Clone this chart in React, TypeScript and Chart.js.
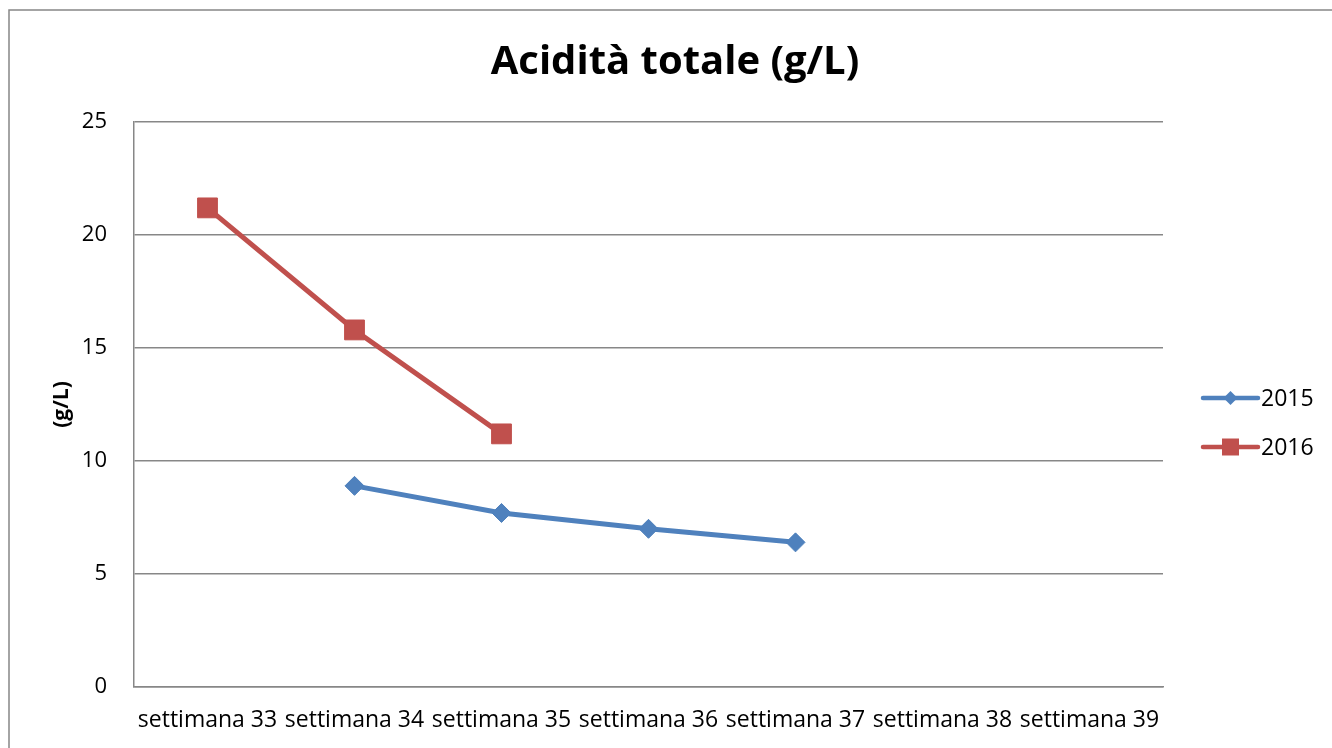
import React, { useEffect, useRef } from 'react';
import { Chart, registerables } from 'chart.js';

Chart.register(...registerables);

const categories = [
  'settimana 33',
  'settimana 34',
  'settimana 35',
  'settimana 36',
  'settimana 37',
  'settimana 38',
  'settimana 39',
];
const series2015 = [null, 8.9, 7.7, 7.0, 6.4, null, null];
const series2016 = [21.2, 15.8, 11.2, null, null, null, null];
const seriesLabels = ['2015', '2016'];
const yMin = 0;
const yMax = 25;
const yStep = 5;

const FONT = '"Open Sans", "Noto Sans", sans-serif';
const GRAY = '#878787';
const BLUE = '#4F81BD';
const RED = '#C0504D';

const frameAndLegend = {
  id: 'frameAndLegend',
  beforeDraw(chart: any) {
    const ctx = chart.ctx;
    ctx.save();
    ctx.fillStyle = '#ffffff';
    ctx.fillRect(0, 0, chart.width, chart.height);
    ctx.strokeStyle = GRAY;
    ctx.lineWidth = 1.5;
    ctx.strokeRect(9, 10, chart.width + 100, chart.height + 100);
    ctx.restore();
  },
  afterDraw(chart: any) {
    const ctx = chart.ctx;
    const area = chart.chartArea;
    const cy = (area.top + area.bottom) / 2;
    ctx.save();
    chart.data.datasets.forEach((ds: any, i: number) => {
      const y = cy - 6.5 + i * 49;
      const x0 = area.right + 40;
      const x1 = area.right + 95;
      const xm = (x0 + x1) / 2;
      ctx.strokeStyle = ds.borderColor;
      ctx.lineWidth = 4.5;
      ctx.lineCap = 'round';
      ctx.beginPath();
      ctx.moveTo(x0, y);
      ctx.lineTo(x1, y);
      ctx.stroke();
      ctx.fillStyle = ds.borderColor;
      ctx.beginPath();
      if (ds.pointStyle === 'rectRot') {
        const r = 7;
        ctx.moveTo(xm - r, y);
        ctx.lineTo(xm, y - r);
        ctx.lineTo(xm + r, y);
        ctx.lineTo(xm, y + r);
        ctx.closePath();
      } else {
        const s = 8.5;
        ctx.rect(xm - s, y - s, 2 * s, 2 * s);
      }
      ctx.fill();
      ctx.fillStyle = '#000';
      ctx.font = `23px ${FONT}`;
      ctx.textBaseline = 'middle';
      ctx.textAlign = 'left';
      ctx.fillText(ds.label, x1 + 3, y + 1);
    });
    ctx.restore();
  },
};

export default function App() {
  const ref = useRef<HTMLCanvasElement | null>(null);
  useEffect(() => {
    document.body.style.margin = '0';
    const canvas = ref.current;
    if (!canvas) return;
    const chart = new Chart(canvas, {
      type: 'line',
      data: {
        labels: categories,
        datasets: [
          {
            label: seriesLabels[0],
            data: series2015,
            borderColor: BLUE,
            backgroundColor: BLUE,
            borderWidth: 5,
            pointStyle: 'rectRot',
            pointRadius: 9.5,
            pointHoverRadius: 9.5,
            pointBorderWidth: 1,
            tension: 0,
            yAxisID: 'y',
          },
          {
            label: seriesLabels[1],
            data: series2016,
            borderColor: RED,
            backgroundColor: RED,
            borderWidth: 5,
            pointStyle: 'rect',
            pointRadius: 14,
            pointHoverRadius: 14,
            pointBorderWidth: 1,
            tension: 0,
            yAxisID: 'y',
          },
        ],
      },
      options: {
        responsive: false,
        animation: false,
        layout: { padding: { left: 18, right: 0, top: 0, bottom: 0 } },
        plugins: {
          legend: { display: false },
          tooltip: { enabled: false },
          title: {
            display: true,
            text: 'Acidità totale (g/L)',
            color: '#000',
            font: { family: FONT, size: 40, weight: 'bold' },
            padding: { top: 38.8, bottom: 35.2 },
          },
        },
        scales: {
          x: {
            type: 'category',
            offset: true,
            grid: { display: false, drawTicks: false },
            border: { display: true, color: GRAY, width: 1.5 },
            ticks: {
              color: '#000',
              font: { family: FONT, size: 23 },
              maxRotation: 0,
              minRotation: 0,
              autoSkip: false,
              padding: 20,
            },
            afterFit(scale: any) {
              scale.height = 61;
            },
          },
          y: {
            type: 'linear',
            position: 'left',
            min: yMin,
            max: yMax,
            ticks: {
              stepSize: yStep,
              color: '#000',
              font: { family: FONT, size: 22 },
              padding: 27,
            },
            grid: { color: GRAY, lineWidth: 1.5, drawTicks: false },
            border: { display: true, color: GRAY, width: 1.5 },
            title: {
              display: true,
              text: '(g/L)',
              color: '#000',
              font: { family: FONT, size: 21, weight: 'bold' },
              padding: { top: 31, bottom: 0 },
            },
            afterFit(scale: any) {
              scale.width = 116;
            },
          },
          legendSpace: {
            type: 'linear',
            position: 'right',
            display: true,
            grid: { display: false, drawTicks: false },
            border: { display: false },
            ticks: { display: false },
            afterFit(scale: any) {
              scale.width = 169;
            },
          },
        },
      } as any,
      plugins: [frameAndLegend],
    });
    return () => chart.destroy();
  }, []);
  return (
    <div style={{ width: 1332, height: 748 }}>
      <canvas ref={ref} width={1332} height={748} style={{ display: 'block' }} />
    </div>
  );
}
